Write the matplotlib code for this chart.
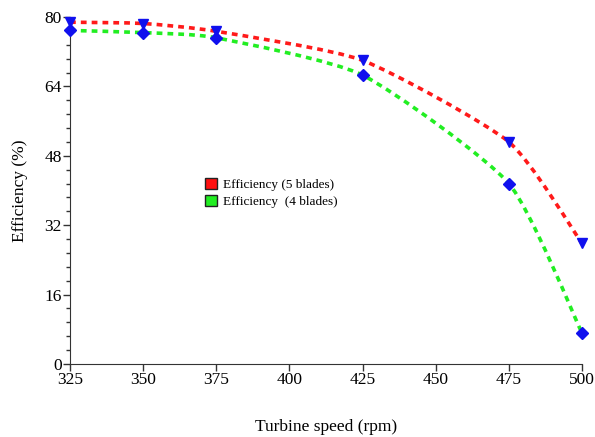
"""Turbine efficiency vs speed for 5 and 4 blade rotors."""

import matplotlib
matplotlib.use("Agg")
import matplotlib.pyplot as plt
from matplotlib.path import Path
from matplotlib.patches import PathPatch, Patch
from matplotlib.ticker import MultipleLocator
import numpy as np

speed = [325, 350, 375, 425, 475, 500]
eff_5_blades = [78.8, 78.5, 76.7, 70.0, 51.2, 27.8]
eff_4_blades = [76.9, 76.4, 75.2, 66.6, 41.6, 7.1]
x_ticks = [325, 350, 375, 400, 425, 450, 475, 500]
y_ticks = [0, 16, 32, 48, 64, 80]

matplotlib.rcParams.update({
    "font.family": "serif",
    "font.serif": ["Liberation Serif", "DejaVu Serif"],
})


def smooth_path(xs, ys, k=10.0):
    """Lightly rounded bezier path through the points (drawn by matplotlib)."""
    pts = np.column_stack([xs, ys]).astype(float)
    verts = [pts[0]]
    codes = [Path.MOVETO]
    n = len(pts)
    for i in range(n - 1):
        p0 = pts[max(i - 1, 0)]
        p1 = pts[i]
        p2 = pts[i + 1]
        p3 = pts[min(i + 2, n - 1)]
        c1 = p1 + (p2 - p0) / k
        c2 = p2 - (p3 - p1) / k
        verts += [c1, c2, p2]
        codes += [Path.CURVE4] * 3
    return Path(verts, codes)


fig = plt.figure(figsize=(5.95, 4.37), dpi=100)
ax = fig.add_axes([70 / 595, 1 - 364 / 437, 512 / 595, 347 / 437])

for ys, col, mk in [(eff_5_blades, "#ff1a1a", "v"), (eff_4_blades, "#22ee22", "D")]:
    ax.add_patch(PathPatch(smooth_path(speed, ys), fill=False, edgecolor=col,
                           lw=2.6, linestyle=(0, (1.6, 1.4)), zorder=2))
    ax.plot(speed, ys, linestyle="none", marker=mk, color="#1010ee",
            markersize=7.5 if mk == "v" else 6, zorder=3, clip_on=False)

ax.set_xlim(325, 500)
ax.set_ylim(0, 80)
ax.set_xticks(x_ticks)
ax.set_yticks(y_ticks)
ax.yaxis.set_minor_locator(MultipleLocator(3.2))
ax.tick_params(axis="both", which="major", labelsize=12.5, length=5, width=1,
               color="#333333", pad=1)
ax.tick_params(axis="y", which="minor", length=3, width=1, color="#333333")
for s in ["top", "right"]:
    ax.spines[s].set_visible(False)
for s in ["left", "bottom"]:
    ax.spines[s].set_color("#333333")

ax.set_xlabel("Turbine speed (rpm)", fontsize=12.5, labelpad=22)
ax.set_ylabel("Efficiency (%)", fontsize=12.5, labelpad=12)

handles = [Patch(facecolor="#ff1010", edgecolor="#222222", label="Efficiency (5 blades)"),
           Patch(facecolor="#22ee22", edgecolor="#222222", label="Efficiency  (4 blades)")]
ax.legend(handles=handles, loc="upper left", bbox_to_anchor=(0.24, 0.57),
          frameon=False, fontsize=9.5, handlelength=0.9, handleheight=0.9,
          handletextpad=0.5, labelspacing=0.3)

fig.savefig("out.png", dpi=100)
